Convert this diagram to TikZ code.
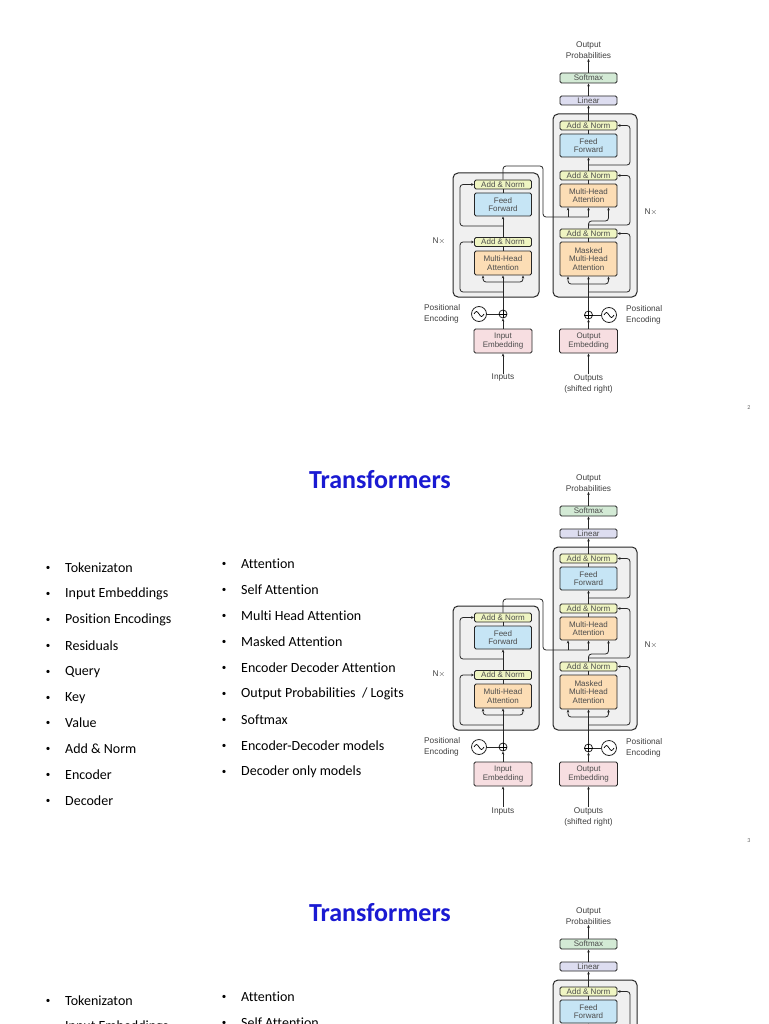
\documentclass[tikz,border=0pt]{standalone}
\usepackage{fontspec}
\setmainfont[Ligatures={NoCommon}]{Carlito}
\newfontfamily\dfamily{Liberation Sans}
\usetikzlibrary{arrows.meta}
\definecolor{anC}{HTML}{EFF5C2}
\definecolor{ffC}{HTML}{C6E5F5}
\definecolor{mhC}{HTML}{FCDDB5}
\definecolor{emC}{HTML}{F7DEE1}
\definecolor{smC}{HTML}{D3EAD5}
\definecolor{liC}{HTML}{DDDDF0}
\definecolor{titleC}{HTML}{1A1AD2}
\tikzset{
  x=1pt,y=-1pt,
  blk/.style={draw=black!85, line width=0.9pt, rounded corners=1.5pt, font=\dfamily\fontsize{8}{8.6}\selectfont, text=black!70, align=center, inner sep=0pt, minimum width=57pt},
  lbl/.style={font=\dfamily\fontsize{8.3}{11.5}\selectfont, text=black!75, align=center, inner sep=0pt},
  outer/.style={draw=black!85, line width=1pt, rounded corners=5pt, fill=black!6},
  ln/.style={draw=black!85, line width=0.8pt, rounded corners=3pt},
  arr/.style={ln, -{Stealth[length=3pt,width=2.6pt]}},
  bul/.style={font=\fontsize{14}{16}\selectfont, anchor=west, inner sep=0pt},
  dot/.style={font=\fontsize{9}{10}\selectfont, inner sep=0pt},
  ttl/.style={font=\bfseries\fontsize{26}{28}\selectfont, text=titleC, inner sep=0pt},
}
\newcommand\tfdiagram[1]{%
  \draw[outer] (453,173) rectangle (539,297);
  \draw[outer] (553,114) rectangle (637,297);
  % encoder
  \node[blk, fill=anC, minimum height=9pt] (#1eA2) at (503,184.5) {Add \& Norm};
  \node[blk, fill=ffC, minimum height=23pt] (#1eFF) at (503,204.5) {Feed\\Forward};
  \node[blk, fill=anC, minimum height=9pt] (#1eA1) at (503,242) {Add \& Norm};
  \node[blk, fill=mhC, minimum height=24pt] (#1eMH) at (503,263) {Multi-Head\\Attention};
  \node[draw=black!85, line width=0.8pt, circle, minimum size=8pt, inner sep=0pt] (#1ePl) at (503,314) {};
  \draw[line width=0.7pt] (#1ePl.north) -- (#1ePl.south) (#1ePl.west) -- (#1ePl.east);
  \node[draw=black!85, line width=0.8pt, circle, minimum size=15pt, inner sep=0pt] (#1eSi) at (479,314) {};
  \draw[line width=0.7pt] ([xshift=-5pt]#1eSi.center) sin ([xshift=-2.5pt,yshift=2.5pt]#1eSi.center) cos (#1eSi.center) sin ([xshift=2.5pt,yshift=-2.5pt]#1eSi.center) cos ([xshift=5pt]#1eSi.center);
  \node[blk, fill=emC, minimum height=24pt, minimum width=58pt] (#1eEm) at (503,341) {Input\\Embedding};
  \node[lbl] (#1eIn) at (503,378) {Inputs};
  \node[lbl, align=left, anchor=west] (#1ePE) at (424,314) {Positional\\Encoding};
  \node[lbl] (#1eN) at (439,241) {N$\times$};
  % decoder
  \node[lbl] (#1OP) at (588.5,50) {Output\\Probabilities};
  \node[blk, fill=smC, minimum height=10pt] (#1dSm) at (588.5,78) {Softmax};
  \node[blk, fill=liC, minimum height=9pt] (#1dLi) at (588.5,100.5) {Linear};
  \node[blk, fill=anC, minimum height=9pt] (#1dA3) at (588.5,125.5) {Add \& Norm};
  \node[blk, fill=ffC, minimum height=23pt] (#1dFF) at (588.5,145.5) {Feed\\Forward};
  \node[blk, fill=anC, minimum height=9pt] (#1dA2) at (588.5,175.5) {Add \& Norm};
  \node[blk, fill=mhC, minimum height=23pt] (#1dMH) at (588.5,195.5) {Multi-Head\\Attention};
  \node[blk, fill=anC, minimum height=9pt] (#1dA1) at (588.5,233.5) {Add \& Norm};
  \node[blk, fill=mhC, minimum height=34pt] (#1dMM) at (588.5,259) {Masked\\Multi-Head\\Attention};
  \node[draw=black!85, line width=0.8pt, circle, minimum size=8pt, inner sep=0pt] (#1dPl) at (588.5,315) {};
  \draw[line width=0.7pt] (#1dPl.north) -- (#1dPl.south) (#1dPl.west) -- (#1dPl.east);
  \node[draw=black!85, line width=0.8pt, circle, minimum size=15pt, inner sep=0pt] (#1dSi) at (609,315) {};
  \draw[line width=0.7pt] ([xshift=-5pt]#1dSi.center) sin ([xshift=-2.5pt,yshift=2.5pt]#1dSi.center) cos (#1dSi.center) sin ([xshift=2.5pt,yshift=-2.5pt]#1dSi.center) cos ([xshift=5pt]#1dSi.center);
  \node[blk, fill=emC, minimum height=24pt, minimum width=58pt] (#1dEm) at (588.5,341) {Output\\Embedding};
  \node[lbl] (#1dOu) at (588.5,384) {Outputs\\(shifted right)};
  \node[lbl, align=left, anchor=west] (#1dPE) at (626,315) {Positional\\Encoding};
  \node[lbl] (#1dN) at (651,212) {N$\times$};
  % encoder connectors
  \draw[arr] (#1eIn.north) -- (#1eEm.south);
  \draw[arr] (#1eEm.north) -- (#1ePl.south);
  \draw[ln] (#1eSi.east) -- (#1ePl.west);
  \draw[arr] (#1ePl.north) -- (#1eMH.south);
  \draw[arr] (503,282) -| ([xshift=-20pt]#1eMH.south);
  \draw[arr] (503,282) -| ([xshift=20pt]#1eMH.south);
  \draw[arr] (503,292) -- (460,292) -- (460,242) -- (#1eA1.west);
  \draw[ln] (#1eMH.north) -- (#1eA1.south);
  \draw[arr] (#1eA1.north) -- (#1eFF.south);
  \draw[arr] (503,226) -- (460,226) -- (460,184.5) -- (#1eA2.west);
  \draw[ln] (#1eFF.north) -- (#1eA2.south);
  \draw[ln] (#1eA2.north) -- (503,166) -- (543,166) -- (543,217) -- (588.5,217);
  \draw[arr] (568,217) -- ([xshift=-20.5pt]#1dMH.south);
  \draw[arr] (588.5,217) -- (#1dMH.south);
  % decoder connectors
  \draw[arr] (#1dOu.north) -- (#1dEm.south);
  \draw[arr] (#1dEm.north) -- (#1dPl.south);
  \draw[ln] (#1dSi.west) -- (#1dPl.east);
  \draw[arr] (#1dPl.north) -- (#1dMM.south);
  \draw[arr] (588.5,284) -| ([xshift=-20.5pt]#1dMM.south);
  \draw[arr] (588.5,284) -| ([xshift=20pt]#1dMM.south);
  \draw[arr] (588.5,292) -- (630,292) -- (630,233.5) -- (#1dA1.east);
  \draw[ln] (#1dMM.north) -- (#1dA1.south);
  \draw[arr] (#1dA1.north) -- (588.5,221) -| ([xshift=20pt]#1dMH.south);
  \draw[arr] (588.5,225) -- (630,225) -- (630,175.5) -- (#1dA2.east);
  \draw[ln] (#1dMH.north) -- (#1dA2.south);
  \draw[arr] (#1dA2.north) -- (#1dFF.south);
  \draw[arr] (588.5,165) -- (630,165) -- (630,125.5) -- (#1dA3.east);
  \draw[ln] (#1dFF.north) -- (#1dA3.south);
  \draw[arr] (#1dA3.north) -- (#1dLi.south);
  \draw[arr] (#1dLi.north) -- (#1dSm.south);
  \draw[arr] (#1dSm.north) -- (#1OP.south);
}
\newcommand\bitem[4]{% name, x, y, text
  \node[dot] (#1d) at (#2,#3) {•};
  \node[bul] (#1) at (#2+17,#3) {#4};
}
\newcommand\slidetext[1]{%
  \node[ttl] (#1ti) at (380,480) {Transformers};
  \bitem{#1a1}{48}{568}{Tokenizaton}
  \bitem{#1a2}{48}{594}{Input Embeddings}
  \bitem{#1a3}{48}{620}{Position Encodings}
  \bitem{#1a4}{48}{646}{Residuals}
  \bitem{#1a5}{48}{672}{Query}
  \bitem{#1a6}{48}{698}{Key}
  \bitem{#1a7}{48}{723}{Value}
  \bitem{#1a8}{48}{749}{Add \& Norm}
  \bitem{#1a9}{48}{775}{Encoder}
  \bitem{#1a10}{48}{801}{Decoder}
  \bitem{#1b1}{224}{564}{Attention}
  \bitem{#1b2}{224}{590}{Self Attention}
  \bitem{#1b3}{224}{616}{Multi Head Attention}
  \bitem{#1b4}{224}{642}{Masked Attention}
  \bitem{#1b5}{224}{668}{Encoder Decoder Attention}
  \bitem{#1b6}{224}{694}{Output Probabilities~~/ Logits}
  \bitem{#1b7}{224}{720}{Softmax}
  \bitem{#1b8}{224}{746}{Encoder-Decoder models}
  \bitem{#1b9}{224}{772}{Decoder only models}
}
\begin{document}
\begin{tikzpicture}
\useasboundingbox (0,0) rectangle (768,1024);
\clip (0,0) rectangle (768,1024);
\fill[white] (0,0) rectangle (768,1024);
\tfdiagram{s1}
\node[font=\fontsize{6}{7}\selectfont, text=black!60] (p2) at (749,408) {2};
\begin{scope}[shift={(0,433)}]
\tfdiagram{s2}
\node[font=\fontsize{6}{7}\selectfont, text=black!60] (p3) at (749,408) {3};
\end{scope}
\slidetext{t2}
\begin{scope}[shift={(0,866)}]
\tfdiagram{s3}
\end{scope}
\begin{scope}[shift={(0,433)}]
\slidetext{t3}
\end{scope}
\end{tikzpicture}
\end{document}
